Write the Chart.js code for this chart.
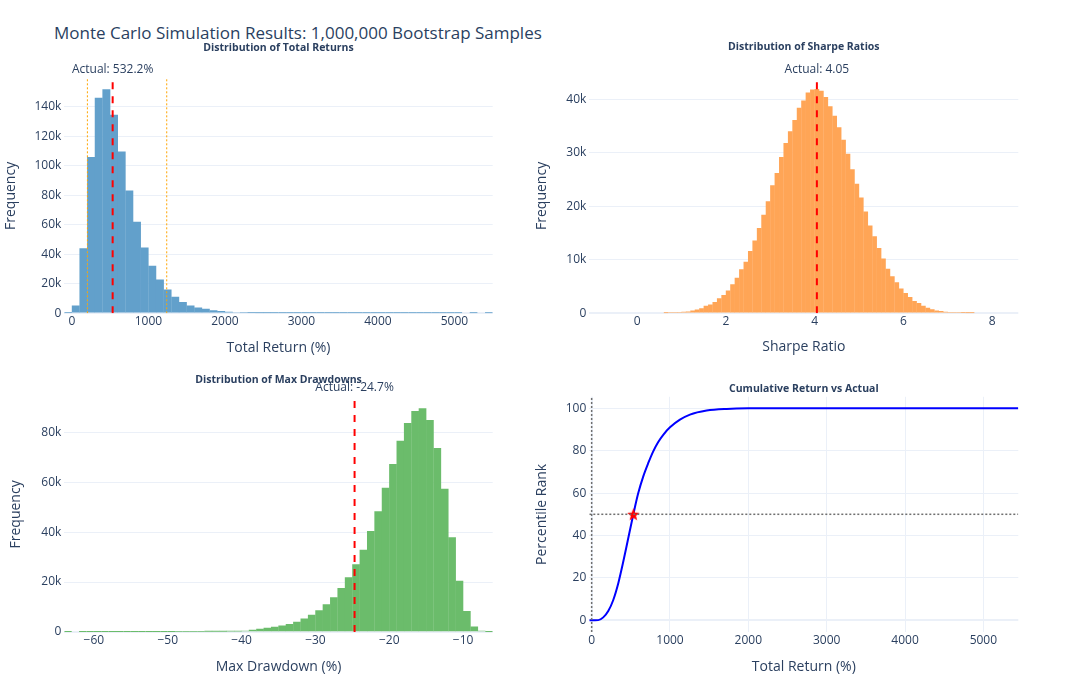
<!DOCTYPE html>
<html>
<head>
<meta charset="utf-8">
<title>Monte Carlo Simulation Results</title>
<script src="https://cdn.jsdelivr.net/npm/chart.js@4.4.1/dist/chart.umd.min.js"></script>
<style>
  html, body { margin: 0; padding: 0; background: #fff; }
  #page { position: relative; width: 1080px; height: 694px; overflow: hidden; font-family: "Open Sans", verdana, arial, sans-serif; }
  #mainTitle { position: absolute; left: 54px; top: 22.7px; font-size: 17px; line-height: 20px; color: #2a3f5f; white-space: nowrap; }
  canvas { position: absolute; }
</style>
</head>
<body>
<div id="page">
  <div id="mainTitle">Monte Carlo Simulation Results: 1,000,000 Bootstrap Samples</div>
  <canvas id="returnsChart" width="520" height="370" style="left:0;top:0"></canvas>
  <canvas id="sharpeChart" width="560" height="370" style="left:520px;top:0"></canvas>
  <canvas id="drawdownChart" width="520" height="324" style="left:0;top:370px"></canvas>
  <canvas id="cdfChart" width="560" height="324" style="left:520px;top:370px"></canvas>
</div>
<script>
// ----------------------------------------------------------------------------
// Data
// ----------------------------------------------------------------------------

// Total returns histogram: bins of 100 %, first bin starts at -100 %
const returnBinStart = -100;
const returnBinSize = 100;
const returnCounts = [
    120, 5200, 44000, 105700, 145900, 151700, 134400, 109500, 83100, 61900,
    44500, 32100, 22800, 16000, 11100, 7500, 5200, 3800, 2900, 2000,
    1400, 900, 650, 450, 320, 220, 150, 110, 80, 60,
    40, 30, 25, 20, 15, 12, 10, 8, 6, 5,
    4, 3, 3, 2, 2, 2, 1, 1, 1, 1,
    1, 1, 0, 1, 0, 1
];
const returnRange = [-100, 5500];
const returnYMax = 159000;
const returnXTicks = [0, 1000, 2000, 3000, 4000, 5000];
const returnXLabels = ['0', '1000', '2000', '3000', '4000', '5000'];
const returnYTicks = [0, 20000, 40000, 60000, 80000, 100000, 120000, 140000];
const returnYLabels = ['0', '20k', '40k', '60k', '80k', '100k', '120k', '140k'];
const actualReturn = 532.2;
const returnP5 = 202;
const returnP95 = 1239;

// Sharpe ratio histogram: bins of 0.1, first listed bin starts at 0.6
const sharpeBinStart = 0.6;
const sharpeBinSize = 0.1;
const sharpeCounts = [
    20, 100, 150, 200, 250, 300, 500, 700, 900, 1400,
    1600, 2100, 2800, 3400, 4250, 5400, 6600, 8200, 9600, 11600,
    13600, 15900, 18400, 20900, 23900, 26200, 29200, 31800, 34000, 36100,
    38400, 39750, 41250, 41800, 41900, 41600, 40400, 38700, 36900, 34750,
    32400, 29800, 26900, 24200, 21600, 19000, 16400, 14400, 12200, 10200,
    8300, 6900, 5800, 4600, 3750, 3000, 2250, 1900, 1400, 1000,
    750, 500, 400, 250, 200, 120, 100, 60, 30, 10
];
const sharpeRange = [-1.08, 8.59];
const sharpeYMax = 43900;
const sharpeXTicks = [0, 2, 4, 6, 8];
const sharpeXLabels = ['0', '2', '4', '6', '8'];
const sharpeYTicks = [0, 10000, 20000, 30000, 40000];
const sharpeYLabels = ['0', '10k', '20k', '30k', '40k'];
const actualSharpe = 4.05;

// Max drawdown histogram: bins of 1 %, first bin starts at -64 %
const drawdownBinStart = -64;
const drawdownBinSize = 1;
const drawdownCounts = [
    1, 0, 1, 2, 2, 3, 5, 6, 8, 10,
    15, 20, 25, 35, 45, 60, 80, 100, 130, 160,
    200, 200, 250, 300, 400, 800, 1200, 1600, 2000, 2500,
    3100, 4000, 5300, 6800, 8700, 11100, 13900, 17600, 21900, 27100,
    32900, 40400, 48300, 57700, 67200, 76500, 83600, 88500, 89600, 84800,
    73600, 57300, 37900, 20500, 8400, 2100, 400, 20
];
const drawdownRange = [-64, -6];
const drawdownYMax = 94200;
const drawdownXTicks = [-60, -50, -40, -30, -20, -10];
const drawdownXLabels = ['\u221260', '\u221250', '\u221240', '\u221230', '\u221220', '\u221210'];
const drawdownYTicks = [0, 20000, 40000, 60000, 80000];
const drawdownYLabels = ['0', '20k', '40k', '60k', '80k'];
const actualDrawdown = -24.7;

// Cumulative return curve (percentile rank vs total return)
const cdfReturns = [-30, 85, 148, 212, 276, 340, 404, 467, 532.2, 595, 659, 723, 786, 850, 914, 1000, 1127, 1255, 1468, 1723, 2000, 3000, 5446];
const cdfPercentiles = [0, 0.1, 1.4, 4.4, 9.6, 17.5, 27.7, 38.7, 50, 60, 67.9, 74.2, 79.7, 84.1, 87.5, 91, 94.6, 97, 98.9, 99.7, 99.95, 100, 100];
const cdfRange = [-30, 5446];
const cdfYRange = [-5.5, 105.4];
const cdfXTicks = [0, 1000, 2000, 3000, 4000, 5000];
const cdfXLabels = ['0', '1000', '2000', '3000', '4000', '5000'];
const cdfYTicks = [0, 20, 40, 60, 80, 100];
const cdfYLabels = ['0', '20', '40', '60', '80', '100'];
const actualPercentile = 50;
const cdfVLine = 0;

// ----------------------------------------------------------------------------
// Styling helpers
// ----------------------------------------------------------------------------
const FONT = '"Open Sans", verdana, arial, sans-serif';
const TEXT = '#2a3f5f';
const GRID = '#ebf0f8';

function binPoints(start, size, counts) {
    return counts.map((c, i) => ({ x: start + size * (i + 0.5), y: c }));
}

function axis(o) {
    return {
        type: 'linear',
        min: o.min,
        max: o.max,
        offset: false,
        border: { display: false },
        grid: {
            display: o.grid,
            offset: false,
            drawTicks: false,
            color: GRID,
            lineWidth: ctx => (ctx.tick && ctx.tick.value === 0 ? 2 : 1)
        },
        ticks: {
            autoSkip: false,
            maxRotation: 0,
            padding: o.tickPad,
            color: TEXT,
            font: { family: FONT, size: 12 },
            callback: (v, i) => o.labels[i]
        },
        title: {
            display: true,
            text: o.title,
            color: TEXT,
            font: { family: FONT, size: 14 },
            padding: o.titlePad
        },
        afterBuildTicks: s => { s.ticks = o.ticks.map(v => ({ value: v })); },
        afterFit: s => {
            if (o.width) s.width = o.width;
            if (o.height) s.height = o.height;
        }
    };
}

// Reference lines, "Actual" label and subplot heading, placed through the scales
const refLines = {
    id: 'refLines',
    afterDatasetsDraw(chart, args, opts) {
        const { ctx, chartArea: a, scales: { x, y } } = chart;
        ctx.save();
        ctx.beginPath();
        ctx.rect(a.left, a.top, a.right - a.left, a.bottom - a.top);
        ctx.clip();
        (opts.vlines || []).forEach(l => {
            const px = x.getPixelForValue(l.value);
            ctx.strokeStyle = l.color;
            ctx.lineWidth = l.width;
            ctx.setLineDash(l.dash);
            ctx.beginPath();
            ctx.moveTo(px, a.bottom);
            ctx.lineTo(px, a.top);
            ctx.stroke();
        });
        (opts.hlines || []).forEach(l => {
            const py = y.getPixelForValue(l.value);
            ctx.strokeStyle = l.color;
            ctx.lineWidth = l.width;
            ctx.setLineDash(l.dash);
            ctx.beginPath();
            ctx.moveTo(a.left, py);
            ctx.lineTo(a.right, py);
            ctx.stroke();
        });
        ctx.restore();

        ctx.save();
        ctx.fillStyle = TEXT;
        ctx.textAlign = 'center';
        ctx.textBaseline = 'middle';
        if (opts.label) {
            ctx.font = '12px ' + FONT;
            ctx.fillText(opts.label.text, x.getPixelForValue(opts.label.value), a.top - 9);
        }
        if (opts.heading) {
            ctx.font = 'bold 10.5px ' + FONT;
            ctx.fillText(opts.heading.text, (a.left + a.right) / 2, a.top - opts.heading.offset);
        }
        ctx.restore();
    }
};

function histogram(canvasId, cfg) {
    return new Chart(document.getElementById(canvasId), {
        type: 'bar',
        data: {
            datasets: [{
                data: binPoints(cfg.binStart, cfg.binSize, cfg.counts),
                backgroundColor: cfg.color,
                borderWidth: 0,
                // close the seams between neighbouring bins, but keep near-empty bins invisible
                inflateAmount: c => (c.raw && c.raw.y >= 150 ? 0.15 : 0),
                barPercentage: 1,
                categoryPercentage: 1,
                grouped: false
            }]
        },
        options: {
            responsive: false,
            animation: false,
            events: [],
            layout: { padding: cfg.padding },
            plugins: {
                legend: { display: false },
                tooltip: { enabled: false },
                refLines: cfg.refs
            },
            scales: { x: cfg.x, y: cfg.y }
        },
        plugins: [refLines]
    });
}

function starImage(size, color) {
    const c = document.createElement('canvas');
    c.width = c.height = size;
    const g = c.getContext('2d');
    const r = size / 2, ri = r * 0.42;
    g.beginPath();
    for (let i = 0; i < 10; i++) {
        const ang = -Math.PI / 2 + i * Math.PI / 5;
        const rr = i % 2 ? ri : r;
        g.lineTo(r + rr * Math.cos(ang), r + rr * 1.04 * Math.sin(ang) + 0.6);
    }
    g.closePath();
    g.fillStyle = color;
    g.fill();
    return c;
}

// ----------------------------------------------------------------------------
// Charts
// ----------------------------------------------------------------------------
histogram('returnsChart', {
    binStart: returnBinStart, binSize: returnBinSize, counts: returnCounts,
    color: '#62a0cb',
    padding: { left: 0, top: 78.5, right: 27.3, bottom: 0 },
    x: axis({ min: returnRange[0], max: returnRange[1], ticks: returnXTicks, labels: returnXLabels, grid: false,
              tickPad: 1, title: 'Total Return (%)', titlePad: { top: 0, bottom: 13.9 }, height: 56.7 }),
    y: axis({ min: 0, max: returnYMax, ticks: returnYTicks, labels: returnYLabels, grid: true,
              tickPad: 3, title: 'Frequency', titlePad: { top: 2.6, bottom: 0 }, width: 64.3 }),
    refs: {
        vlines: [
            { value: returnP5, color: 'orange', width: 1, dash: [2, 2] },
            { value: returnP95, color: 'orange', width: 1, dash: [2, 2] },
            { value: actualReturn, color: 'red', width: 2, dash: [7, 7] }
        ],
        label: { value: actualReturn, text: 'Actual: ' + actualReturn.toFixed(1) + '%' },
        heading: { text: 'Distribution of Total Returns', offset: 30.8 }
    }
});

histogram('sharpeChart', {
    binStart: sharpeBinStart, binSize: sharpeBinSize, counts: sharpeCounts,
    color: '#ffa556',
    padding: { left: 0, top: 78.5, right: 61.7, bottom: 0 },
    x: axis({ min: sharpeRange[0], max: sharpeRange[1], ticks: sharpeXTicks, labels: sharpeXLabels, grid: false,
              tickPad: 1, title: 'Sharpe Ratio', titlePad: { top: 0, bottom: 14.2 }, height: 56.7 }),
    y: axis({ min: 0, max: sharpeYMax, ticks: sharpeYTicks, labels: sharpeYLabels, grid: true,
              tickPad: 3, title: 'Frequency', titlePad: { top: 13.2, bottom: 0 }, width: 69.3 }),
    refs: {
        vlines: [{ value: actualSharpe, color: 'red', width: 2, dash: [7, 7] }],
        label: { value: actualSharpe, text: 'Actual: ' + actualSharpe.toFixed(2) },
        heading: { text: 'Distribution of Sharpe Ratios', offset: 31.2 }
    }
});

histogram('drawdownChart', {
    binStart: drawdownBinStart, binSize: drawdownBinSize, counts: drawdownCounts,
    color: '#6bbc6b',
    padding: { left: 0, top: 26.8, right: 27.3, bottom: 0 },
    x: axis({ min: drawdownRange[0], max: drawdownRange[1], ticks: drawdownXTicks, labels: drawdownXLabels, grid: false,
              tickPad: 1, title: 'Max Drawdown (%)', titlePad: { top: 0, bottom: 18.9 }, height: 62 }),
    y: axis({ min: 0, max: drawdownYMax, ticks: drawdownYTicks, labels: drawdownYLabels, grid: true,
              tickPad: 3, title: 'Frequency', titlePad: { top: 7.6, bottom: 0 }, width: 64.3 }),
    refs: {
        vlines: [{ value: actualDrawdown, color: 'red', width: 2, dash: [7, 7] }],
        label: { value: actualDrawdown, text: 'Actual: ' + actualDrawdown.toFixed(1) + '%' },
        heading: { text: 'Distribution of Max Drawdowns', offset: 16.8 }
    }
});

new Chart(document.getElementById('cdfChart'), {
    type: 'line',
    data: {
        datasets: [
            {
                data: [{ x: actualReturn, y: actualPercentile }],
                showLine: false,
                pointStyle: starImage(13, 'red'),
                pointRadius: 6,
                order: 0
            },
            {
                data: cdfReturns.map((v, i) => ({ x: v, y: cdfPercentiles[i] })),
                borderColor: 'blue',
                borderWidth: 2,
                pointRadius: 0,
                fill: false,
                cubicInterpolationMode: 'monotone',
                order: 1
            }
        ]
    },
    options: {
        responsive: false,
        animation: false,
        events: [],
        layout: { padding: { left: 0, top: 26.8, right: 61.7, bottom: 0 } },
        plugins: {
            legend: { display: false },
            tooltip: { enabled: false },
            refLines: {
                vlines: [{ value: cdfVLine, color: '#6f6f6f', width: 1.5, dash: [2, 2] }],
                hlines: [{ value: actualPercentile, color: '#6f6f6f', width: 1.5, dash: [2, 2] }],
                heading: { text: 'Cumulative Return vs Actual', offset: 7.8 }
            }
        },
        scales: {
            x: axis({ min: cdfRange[0], max: cdfRange[1], ticks: cdfXTicks, labels: cdfXLabels, grid: true,
                      tickPad: 1, title: 'Total Return (%)', titlePad: { top: 0, bottom: 18.9 }, height: 62 }),
            y: axis({ min: cdfYRange[0], max: cdfYRange[1], ticks: cdfYTicks, labels: cdfYLabels, grid: true,
                      tickPad: 3, title: 'Percentile Rank', titlePad: { top: 13.2, bottom: 0 }, width: 69.3 })
        }
    },
    plugins: [refLines]
});
</script>
</body>
</html>
